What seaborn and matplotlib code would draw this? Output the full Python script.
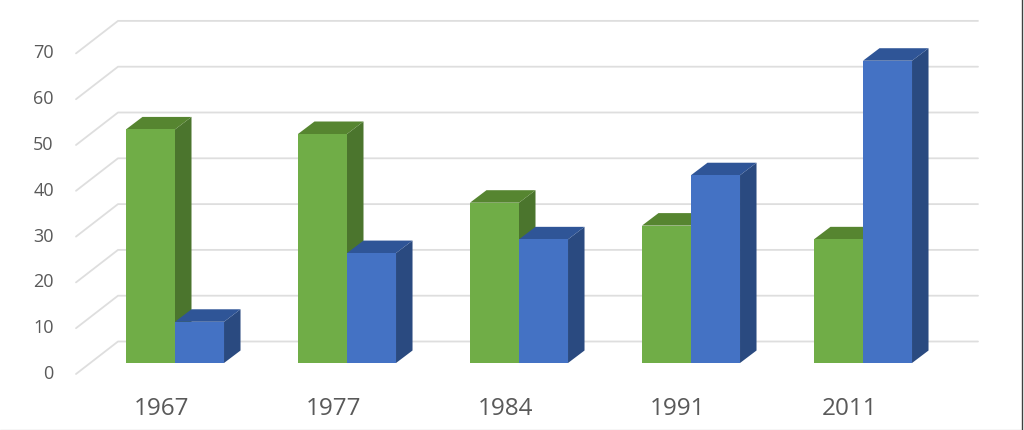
import pandas as pd
import matplotlib.pyplot as plt
import matplotlib.transforms as mtrans
from matplotlib.lines import Line2D
from matplotlib.patches import Polygon
import seaborn as sns

# Values
years = ["1967", "1977", "1984", "1991", "2011"]
green_values = [51, 50, 35, 30, 27]
blue_values = [9, 24, 27, 41, 66]
y_ticks = [0, 10, 20, 30, 40, 50, 60, 70]

df = pd.DataFrame({
    "year": years * 2,
    "series": ["green"] * 5 + ["blue"] * 5,
    "value": green_values + blue_values,
})

sns.set_theme(style="white")
plt.rcParams["font.family"] = ["Open Sans", "DejaVu Sans"]

W, H = 1024, 431
PX_X = 172.0    # pixels per category
PX_Y = 4.58     # pixels per unit
BASE = 364      # pixel row of value 0

fig = plt.figure(figsize=(W / 100, H / 100), dpi=100)
ax = fig.add_axes([76 / W, (H - BASE) / H, 902 / W, BASE / H])

sns.barplot(data=df, x="year", y="value", hue="series",
            palette={"green": "#70AD47", "blue": "#4472C4"},
            width=0.57, gap=0, saturation=1, legend=False, ax=ax, zorder=3)

ax.set_xlim((76 - 175) / PX_X, (978 - 175) / PX_X)
ax.set_ylim(0, BASE / PX_Y)


def dx(px):
    return px / PX_X


def dy(px):
    return px / PX_Y


# Fake 3D walls: gridlines run back from the front edge then along the wall
x0, x1 = ax.get_xlim()
for v in y_ticks:
    ax.plot([x0, x0 + dx(42), x1], [v - dy(11), v + dy(21.5), v + dy(21.5)],
            color="#DEDEDE", lw=1.3, clip_on=False, zorder=1)

# Fake 3D bars: top and side faces built from the seaborn bars
depth_x, depth_y = dx(16.5), dy(12.5)
n_bars = len(years) * 2
for i, bar in enumerate(ax.patches[:n_bars]):
    left, w, h = bar.get_x(), bar.get_width(), bar.get_height()
    top_col, side_col = ("#568530", "#4B752D") if i < len(years) else ("#2F5597", "#2A4A80")
    right = left + w
    ax.add_patch(Polygon([(right, 0), (right + depth_x, depth_y),
                          (right + depth_x, h + depth_y), (right, h)],
                         facecolor=side_col, edgecolor="none", zorder=2.5))
    ax.add_patch(Polygon([(left, h), (left + depth_x, h + depth_y),
                          (right + depth_x, h + depth_y), (right, h)],
                         facecolor=top_col, edgecolor="none", zorder=2.6))
    bar.set_edgecolor("none")

sns.despine(ax=ax, left=True, bottom=True)
ax.set_xlabel("")
ax.set_ylabel("")
ax.set_yticks(y_ticks)
ax.tick_params(axis="x", length=0, pad=24, labelsize=17.5, labelcolor="#595959")
ax.tick_params(axis="y", length=0, pad=16, labelsize=13, labelcolor="#595959")

# Labels sit lower and further left than the bars they belong to
shift_x = mtrans.ScaledTranslation(-13 / 100, 0, fig.dpi_scale_trans)
shift_y = mtrans.ScaledTranslation(0, -8 / 100, fig.dpi_scale_trans)
for t in ax.get_xticklabels():
    t.set_transform(t.get_transform() + shift_x)
for t in ax.get_yticklabels():
    t.set_transform(t.get_transform() + shift_y)

# Screenshot edges
fig.add_artist(Line2D([0, 1021 / W], [0.5 / H, 0.5 / H], color="#D4D4D4", lw=1))
fig.add_artist(Line2D([1022 / W, 1022 / W], [0, 1], color="#404040", lw=1))

plt.savefig("out.png", dpi=100)
